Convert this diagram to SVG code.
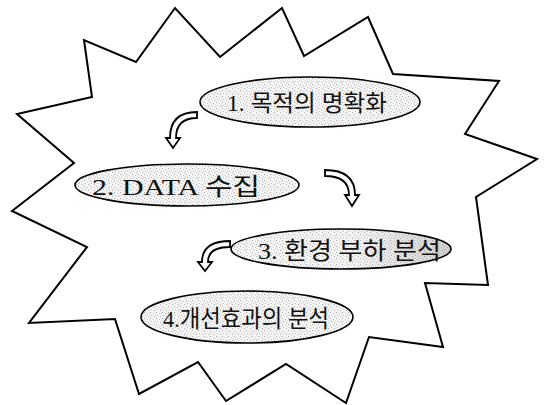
<svg xmlns="http://www.w3.org/2000/svg" width="546" height="405" viewBox="0 0 546 405">
  <style>
    .burst { fill: #ffffff; stroke: #000000; stroke-width: 2; stroke-linejoin: miter; }
    .step { fill: url(#stipple); stroke: #000000; stroke-width: 1.6; }
    .label { font-family: "Liberation Serif", "Noto Sans CJK KR", serif; fill: #111111; }
    .turn { fill: #ffffff; stroke: #000000; stroke-width: 1.8; stroke-linejoin: miter; }
  </style>
  <defs>
    <!-- fine grey stipple used inside the step ovals -->
    <pattern id="stipple" width="6" height="6" patternUnits="userSpaceOnUse">
      <rect width="6" height="6" fill="#f4f4f4"/>
      <rect x="0" y="0" width="1" height="1" fill="#a8a8a8"/>
      <rect x="3" y="1" width="1" height="1" fill="#c8c8c8"/>
      <rect x="1" y="3" width="1" height="1" fill="#bdbdbd"/>
      <rect x="4" y="4" width="1" height="1" fill="#b0b0b0"/>
      <rect x="5" y="2" width="1" height="1" fill="#d6d6d6"/>
    </pattern>
    <linearGradient id="shadeRight" x1="0" y1="0" x2="1" y2="0">
      <stop offset="0.55" stop-color="#808080" stop-opacity="0"/>
      <stop offset="1" stop-color="#808080" stop-opacity="0.3"/>
    </linearGradient>
  </defs>

  <!-- jagged burst outline behind the steps -->
  <g id="burst">
    <polygon class="burst" points="84,40 92,97 17,114 74,163 12,211 87,247 29,323 115,319 139,394 198,362 226,401 286,364 346,403 369,337 443,347 425,283 488,285 476,197 537,159 465,134 499,81 393,74 368,17 304,56 282,8 220,57 175,8 136,62"/>
  </g>

  <!-- curved hollow arrows between the steps -->
  <g id="connectors">
    <path class="turn" d="M197,112 Q170,112 170,138 L166,138 L173,148 L180,138 L176,138 Q176,118 197,118 Z"/>
    <path class="turn" d="M325,170 Q355,170 355,195 L359,195 L352,206 L345,195 L349,195 Q349,176 325,176 Z"/>
    <path class="turn" d="M230,241 Q202,241 202,262 L198,262 L205,271 L212,262 L208,262 Q208,247 230,247 Z"/>
  </g>

  <g id="step1">
    <ellipse class="step" cx="310" cy="102" rx="110" ry="25"/>
    <text class="label" x="227" y="111" font-size="23" textLength="160" lengthAdjust="spacingAndGlyphs">1. 목적의 명확화</text>
  </g>

  <g id="step2">
    <ellipse class="step" cx="187" cy="185" rx="112" ry="21"/>
    <text class="label" x="92" y="195" font-size="24" textLength="168" lengthAdjust="spacingAndGlyphs">2. DATA 수집</text>
  </g>

  <g id="step3">
    <ellipse class="step" cx="341" cy="249" rx="110" ry="20"/>
    <ellipse cx="341" cy="249" rx="109" ry="19" fill="url(#shadeRight)"/>
    <text class="label" x="258" y="259" font-size="24" textLength="183" lengthAdjust="spacingAndGlyphs">3. 환경 부하 분석</text>
  </g>

  <g id="step4">
    <ellipse class="step" cx="247" cy="317" rx="106" ry="26"/>
    <text class="label" x="163" y="327" font-size="24" textLength="166" lengthAdjust="spacingAndGlyphs">4.개선효과의 분석</text>
  </g>
</svg>
